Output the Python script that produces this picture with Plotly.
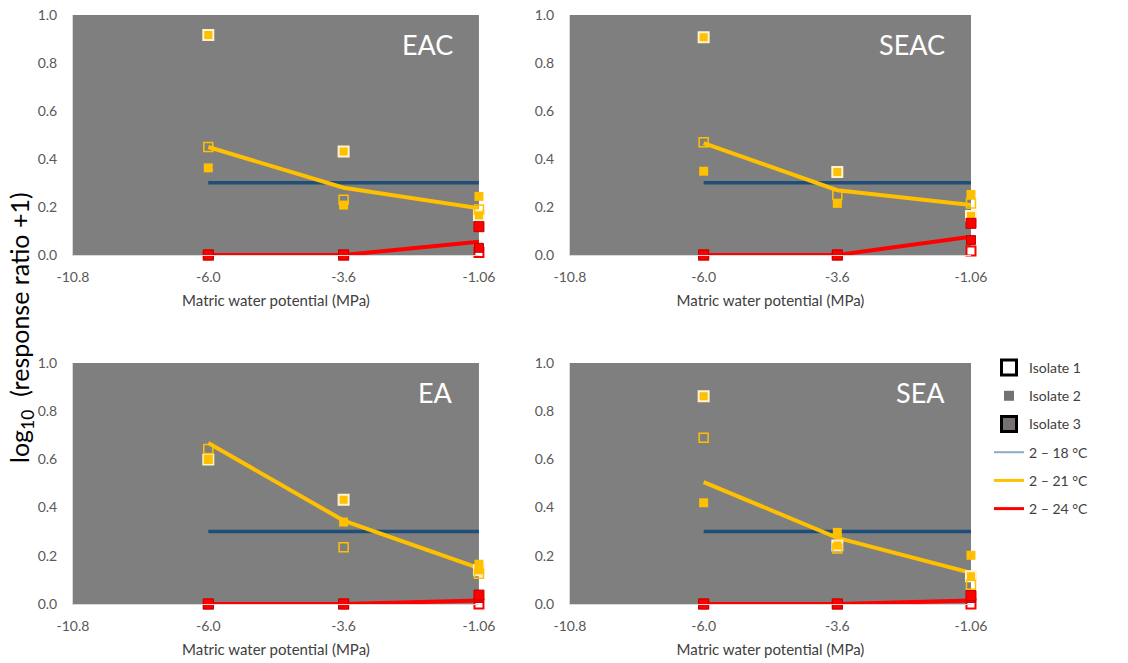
import plotly.graph_objects as go

# Matric water potential categories (MPa); first one only anchors the axis
potentials = ["-10.8", "-6.0", "-3.6", "-1.06"]
x_obs = ["-6.0", "-3.6", "-1.06"]

panels = ["EAC", "SEAC", "EA", "SEA"]

# 2 - 18 °C reference level: log10(1 + 1)
line_18 = [0.301, 0.301, 0.301]

# 2 - 21 °C
iso1_21 = {"EAC": [0.45, 0.23, 0.19], "SEAC": [0.47, 0.25, 0.215],
           "EA": [0.643, 0.235, 0.125], "SEA": [0.69, 0.23, 0.08]}
iso2_21 = {"EAC": [0.363, 0.208, 0.244], "SEAC": [0.349, 0.215, 0.252],
           "EA": [0.60, 0.34, 0.165], "SEA": [0.42, 0.297, 0.202]}
iso3_21 = {"EAC": [0.917, 0.431, 0.166], "SEAC": [0.907, 0.346, 0.162],
           "EA": [0.60, 0.433, 0.14], "SEA": [0.862, 0.243, 0.115]}
line_21 = {"EAC": [0.45, 0.28, 0.195], "SEAC": [0.466, 0.27, 0.208],
           "EA": [0.668, 0.346, 0.149], "SEA": [0.506, 0.274, 0.129]}

# 2 - 24 °C
iso1_24 = {"EAC": [0.0, 0.0, 0.01], "SEAC": [0.0, 0.0, 0.017],
           "EA": [0.0, 0.0, 0.0], "SEA": [0.0, 0.0, 0.0]}
iso2_24 = {"EAC": [0.0, 0.0, 0.118], "SEAC": [0.0, 0.0, 0.132],
           "EA": [0.0, 0.0, 0.037], "SEA": [0.0, 0.0, 0.035]}
iso3_24 = {"EAC": [0.0, 0.0, 0.03], "SEAC": [0.0, 0.0, 0.062],
           "EA": [0.0, 0.0, 0.025], "SEA": [0.0, 0.0, 0.025]}
line_24 = {"EAC": [0.0, 0.0, 0.055], "SEAC": [0.0, 0.0, 0.076],
           "EA": [0.0, 0.0, 0.014], "SEA": [0.0, 0.0, 0.014]}

y_ticks = [0.0, 0.2, 0.4, 0.6, 0.8, 1.0]

NAVY = "#1F4E79"
GOLD = "#FFC000"
RED = "#FF0000"
PANEL_BG = "#7F7F7F"
FONT = "Lato"

x_domains = [[0.0647, 0.4246], [0.5053, 0.8608], [0.0647, 0.4246], [0.5053, 0.8608]]
y_domains = [[0.6154, 0.9774], [0.6154, 0.9774], [0.0890, 0.4525], [0.0890, 0.4525]]

fig = go.Figure()

for i, name in enumerate(panels):
    xa = "x" if i == 0 else f"x{i + 1}"
    ya = "y" if i == 0 else f"y{i + 1}"
    common = dict(xaxis=xa, yaxis=ya, showlegend=False, cliponaxis=False, hoverinfo="skip")

    fig.add_trace(go.Scatter(x=x_obs, y=line_18, mode="lines",
                             line=dict(color=NAVY, width=3.5), **common))
    fig.add_trace(go.Scatter(x=x_obs, y=line_21[name], mode="lines",
                             line=dict(color=GOLD, width=4), **common))
    fig.add_trace(go.Scatter(x=x_obs, y=line_24[name], mode="lines",
                             line=dict(color=RED, width=4), **common))

    # isolates at 2 - 21 °C
    fig.add_trace(go.Scatter(x=x_obs, y=iso3_21[name], mode="markers",
                             marker=dict(symbol="square", size=10, color=GOLD,
                                         line=dict(color="#FFF2CC", width=2)), **common))
    fig.add_trace(go.Scatter(x=x_obs, y=iso2_21[name], mode="markers",
                             marker=dict(symbol="square", size=9, color=GOLD,
                                         line=dict(width=0)), **common))
    fig.add_trace(go.Scatter(x=x_obs, y=iso1_21[name], mode="markers",
                             marker=dict(symbol="square-open", size=9, color=GOLD,
                                         line=dict(color=GOLD, width=1.5)), **common))

    # isolates at 2 - 24 °C
    fig.add_trace(go.Scatter(x=x_obs, y=iso1_24[name], mode="markers",
                             marker=dict(symbol="square", size=9, color="white",
                                         line=dict(color=RED, width=2)), **common))
    fig.add_trace(go.Scatter(x=x_obs, y=iso3_24[name], mode="markers",
                             marker=dict(symbol="square", size=9, color=RED,
                                         line=dict(color="#C00000", width=1)), **common))
    fig.add_trace(go.Scatter(x=x_obs, y=iso2_24[name], mode="markers",
                             marker=dict(symbol="square", size=10, color=RED,
                                         line=dict(color="#C00000", width=1)), **common))

    axis_font = dict(family=FONT, size=14, color="#595959")
    fig.update_layout(**{
        ("xaxis" if i == 0 else f"xaxis{i + 1}"): dict(
            domain=x_domains[i], anchor=ya, type="category",
            categoryorder="array", categoryarray=potentials,
            range=[0, 3], tickvals=potentials, ticktext=potentials,
            showgrid=False, zeroline=False, showline=True, linecolor="#D9D9D9",
            linewidth=1, ticks="", tickfont=axis_font, ticklabelstandoff=9,
            automargin=False,
            title=dict(text="Matric water potential (MPa)",
                       font=dict(family=FONT, size=15, color="#404040"), standoff=11),
        ),
        ("yaxis" if i == 0 else f"yaxis{i + 1}"): dict(
            domain=y_domains[i], anchor=xa, range=[0, 1], tickvals=y_ticks,
            ticktext=[f"{v:.1f}" for v in y_ticks],
            showgrid=False, zeroline=False, showline=True, linecolor="#D9D9D9",
            linewidth=1, ticks="", tickfont=axis_font, ticklabelstandoff=12,
            automargin=False,
        ),
    })

    fig.add_annotation(text=name, xref=f"{xa} domain", yref=f"{ya} domain",
                       x=1, y=1, xanchor="right", yanchor="middle",
                       xshift=-24, yshift=-30, showarrow=False,
                       font=dict(family=FONT, size=27, color="white"))

# legend entries
legend_font = dict(family=FONT, size=14, color="#404040")
legend_items = [
    ("Isolate 1", dict(mode="markers", marker=dict(symbol="square", size=15, color="white",
                                                     line=dict(color="black", width=3)))),
    ("Isolate 2", dict(mode="markers", marker=dict(symbol="square", size=10, color="#767171",
                                                     line=dict(width=0)))),
    ("Isolate 3", dict(mode="markers", marker=dict(symbol="square", size=15, color="#767171",
                                                     line=dict(color="black", width=3)))),
    ("2 – 18 °C", dict(mode="lines", line=dict(color="#8FAAC4", width=2))),
    ("2 – 21 °C", dict(mode="lines", line=dict(color=GOLD, width=3))),
    ("2 – 24 °C", dict(mode="lines", line=dict(color=RED, width=3))),
]
for k, (label, style) in enumerate(legend_items):
    fig.add_trace(go.Scatter(x=[None], y=[None], name=label, legendgroup=f"g{k}",
                             showlegend=True, xaxis="x", yaxis="y", **style))

fig.add_annotation(text="log<sub>10</sub>\u00a0 (response ratio +1)", xref="paper", yref="paper",
                   x=21 / 1128, y=1 - 328 / 663, xanchor="center", yanchor="middle",
                   textangle=-90, showarrow=False,
                   font=dict(family=FONT, size=25, color="black"))

fig.update_layout(
    width=1128, height=663,
    margin=dict(l=0, r=0, t=0, b=0, autoexpand=False),
    paper_bgcolor="white",
    plot_bgcolor=PANEL_BG,
    showlegend=True,
    legend=dict(x=989 / 1128, y=1 - 352 / 663, xanchor="left", yanchor="top",
                font=legend_font, tracegroupgap=7, itemwidth=30,
                bgcolor="rgba(0,0,0,0)"),
)

fig.write_html("out.html")
